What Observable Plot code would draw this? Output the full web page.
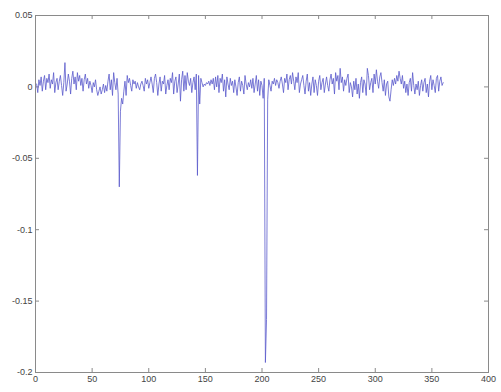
<!DOCTYPE html>
<html><head><meta charset="utf-8">
<script src="https://cdn.jsdelivr.net/npm/d3@7"></script>
<script src="https://cdn.jsdelivr.net/npm/@observablehq/plot@0.6"></script>
<style>body{margin:0;background:#fff}</style></head>
<body><div id="chart"></div>
<script>
const values = [
 0.002,-0.004,0.005,0.001,0.007,-0.003,0.004,0.008,-0.002,0.006,0.003,0.009,-0.001,0.005,0.002,0.010,-0.004,0.003,0.006,-0.002,
 0.004,0.008,0.001,-0.006,0.003,0.017,-0.003,0.002,0.009,0.004,-0.005,0.006,0.011,0.002,0.007,-0.002,0.010,0.004,0.008,0.001,
 0.006,-0.003,0.005,0.009,0.002,0.006,-0.001,0.004,0.001,-0.004,0.003,0.000,0.005,-0.002,-0.006,-0.003,0.000,-0.005,-0.002,0.002,
 -0.004,0.001,-0.003,0.004,0.009,-0.002,0.005,-0.006,0.010,0.003,-0.002,0.006,-0.005,-0.070,-0.017,-0.008,-0.012,-0.003,0.004,-0.006,
 0.008,0.003,0.006,0.001,-0.003,0.005,0.002,0.004,-0.001,0.003,0.000,-0.002,0.002,0.004,0.001,-0.003,0.006,0.002,0.005,-0.001,
 0.003,0.007,0.002,-0.004,0.006,0.009,0.003,-0.006,0.002,0.007,-0.003,0.004,0.002,0.008,-0.005,0.001,0.005,-0.002,0.006,0.003,
 0.010,-0.005,0.004,0.007,-0.004,0.002,0.009,-0.010,0.005,0.011,-0.003,0.008,-0.002,0.010,0.004,0.001,0.006,-0.004,0.003,0.007,
 -0.002,0.009,-0.062,0.008,-0.012,0.006,0.003,0.000,0.002,0.001,0.003,0.002,0.004,0.001,0.005,0.002,0.006,-0.002,0.007,0.000,
 0.008,-0.004,0.006,0.003,0.009,-0.003,0.005,-0.007,0.007,0.002,-0.002,0.006,0.001,0.004,-0.004,0.005,0.000,-0.006,0.003,0.007,
 -0.003,0.004,0.001,-0.005,0.008,0.002,-0.002,0.003,0.000,0.005,-0.001,0.006,-0.004,0.002,0.008,-0.003,0.005,-0.006,0.004,0.001,
 -0.008,0.006,-0.193,-0.163,-0.009,0.005,0.001,-0.003,0.004,0.002,0.006,0.001,0.005,0.003,-0.001,0.004,0.007,0.002,-0.004,0.006,
 0.003,0.009,-0.002,0.005,0.008,0.002,0.010,0.004,-0.002,0.007,0.003,0.010,-0.004,0.002,0.005,0.008,0.001,-0.005,0.004,0.009,
 -0.003,0.003,-0.006,0.002,0.007,-0.004,0.005,0.001,-0.006,0.004,0.008,-0.002,0.003,0.006,-0.004,0.002,0.007,0.001,-0.003,0.005,
 0.009,0.002,0.006,-0.005,0.010,0.004,0.008,-0.002,0.013,0.003,0.007,-0.003,0.005,0.001,0.006,0.009,-0.004,0.003,0.000,-0.007,
 0.004,-0.002,0.006,-0.005,0.002,-0.008,0.003,0.007,-0.004,0.005,0.002,-0.006,0.013,0.008,-0.002,0.003,0.006,-0.004,0.009,0.002,
 0.012,0.004,-0.001,0.007,0.010,0.003,-0.003,0.005,-0.006,0.002,0.004,-0.007,-0.010,-0.002,0.005,0.001,0.006,0.002,0.008,0.004,
 0.011,0.006,0.002,0.008,-0.001,0.004,-0.004,0.002,-0.006,0.003,0.006,-0.003,0.010,0.001,-0.005,0.002,-0.002,0.004,-0.006,0.001,
 0.005,-0.003,0.003,0.006,-0.004,0.002,-0.007,0.004,0.008,-0.002,0.005,0.001,-0.004,0.006,0.008,-0.003,0.004,0.007,0.001,0.003
];
const xTicks = [0,50,100,150,200,250,300,350,400];
const yTicks = [0.05,0,-0.05,-0.1,-0.15,-0.2];
const xDomain = [0, 400];
const yDomain = [-0.2, 0.05];
const data = values.map((v,i)=>({x:i+1,y:v}));
const axisColor = "#8a8a8a";
const W = 501, H = 392, mL = 35, mR = 13, mT = 15, mB = 20, tickPx = 4;
const innerW = W - mL - mR, innerH = H - mT - mB;
const tx = (xDomain[1]-xDomain[0]) * tickPx / innerW;
const ty = (yDomain[1]-yDomain[0]) * tickPx / innerH;
const chart = Plot.plot({
  width:W, height:H,
  marginLeft:mL, marginRight:mR, marginTop:mT, marginBottom:mB,
  x:{domain:xDomain},
  y:{domain:yDomain},
  style:{fontFamily:"'Liberation Sans', Arial, sans-serif", fontSize:"9px", color:"#444", background:"#fff"},
  marks:[
    Plot.axisX(xTicks,{anchor:"bottom", tickSize:0, tickPadding:3, label:null, tickFormat:d=>String(d)}),
    Plot.axisY(yTicks,{anchor:"left", tickSize:0, tickPadding:3, label:null, tickFormat:d=>String(d)}),
    Plot.ruleX(xTicks,{x:d=>d, y1:yDomain[0], y2:yDomain[0]+ty, stroke:axisColor}),
    Plot.ruleX(xTicks,{x:d=>d, y1:yDomain[1], y2:yDomain[1]-ty, stroke:axisColor}),
    Plot.ruleY(yTicks,{y:d=>d, x1:xDomain[0], x2:xDomain[0]+tx, stroke:axisColor}),
    Plot.ruleY(yTicks,{y:d=>d, x1:xDomain[1], x2:xDomain[1]-tx, stroke:axisColor}),
    Plot.frame({stroke:axisColor}),
    Plot.line(data,{x:"x", y:"y", stroke:"#5a5acc", strokeWidth:0.8})
  ]
});
document.getElementById("chart").append(chart);
</script>
</body></html>
